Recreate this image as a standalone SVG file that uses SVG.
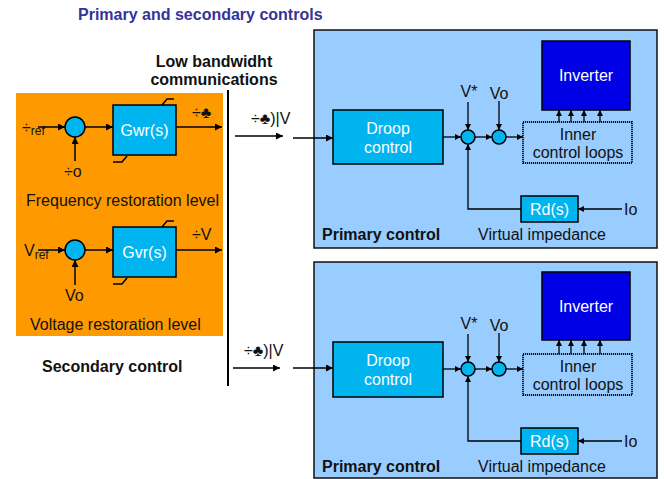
<svg xmlns="http://www.w3.org/2000/svg" width="664" height="479" viewBox="0 0 664 479">
<defs>
<marker id="ah" viewBox="0 0 10 10" refX="10" refY="5" markerWidth="7" markerHeight="7" markerUnits="userSpaceOnUse" orient="auto"><path d="M0,0 L10,5 L0,10 z" fill="#000"/></marker>
<marker id="ahs" viewBox="0 0 10 10" refX="10" refY="5" markerWidth="6" markerHeight="6" markerUnits="userSpaceOnUse" orient="auto"><path d="M0,0 L10,5 L0,10 z" fill="#000"/></marker>
</defs>
<style>
text{font-family:"Liberation Sans",Arial,sans-serif;fill:#111}
.t{font-size:16px}
.w{fill:#fff;font-size:16px}
.b{font-weight:bold;font-size:16px}
.panel{fill:#99CCFF;stroke:#111;stroke-width:1.5}
.box{fill:#00B4F0;stroke:#000;stroke-width:1.5}
.sum{fill:#00B4F0;stroke:#000;stroke-width:1.5}
.inv{fill:#0000E6;stroke:#000;stroke-width:1.5}
.inner{fill:none;stroke:#111;stroke-width:1.8;stroke-dasharray:1.2 0.8}
.ln{fill:none;stroke:#000;stroke-width:1.5}
.a{fill:none;stroke:#000;stroke-width:1.5;marker-end:url(#ah)}
.as{fill:none;stroke:#000;stroke-width:1.3;marker-end:url(#ahs)}
</style>
<rect width="664" height="479" fill="#fff"/>
<text x="78" y="20" style="font-weight:bold;font-size:16px;fill:#333399">Primary and secondary controls</text>
<text x="214" y="67" class="b" text-anchor="middle">Low bandwidht</text>
<text x="214" y="85" class="b" text-anchor="middle">communications</text>

<g id="secondary">
<rect x="16" y="93" width="207" height="243" fill="#FF9900"/>
<text x="42" y="372" class="b">Secondary control</text>
</g>

<g id="freq">
<rect x="113" y="105" width="63" height="50" class="box"/>
<text x="144.5" y="136" class="w" text-anchor="middle">Gwr(s)</text>
<path d="M162,105 L167,99 L174,99 M113,162 L122,162 L127,156" class="ln" stroke-width="1.2"/>
<circle cx="75" cy="127" r="10" class="sum"/>
<text x="22" y="133" class="t">÷<tspan font-size="12" dy="2">ref</tspan></text>
<text x="64" y="177" class="t">÷o</text>
<text x="192" y="118" class="t">÷♣</text>
<text x="26" y="206" class="t">Frequency restoration level</text>
</g>

<g id="volt">
<rect x="113" y="227" width="63" height="50" class="box"/>
<text x="144.5" y="258" class="w" text-anchor="middle">Gvr(s)</text>
<path d="M162,227 L167,221 L174,221 M113,284 L122,284 L127,278" class="ln" stroke-width="1.2"/>
<circle cx="75" cy="250" r="10" class="sum"/>
<text x="24" y="256" class="t">V<tspan font-size="12" dy="3">ref</tspan></text>
<text x="65" y="301" class="t">Vo</text>
<text x="192" y="240" class="t">÷V</text>
<text x="30" y="330" class="t">Voltage restoration level</text>
</g>

<g id="comm">
<line x1="228" y1="90" x2="228" y2="386" stroke="#000" stroke-width="2"/>
<text x="251" y="124" class="t">÷♣)|V</text>
<text x="244" y="356" class="t">÷♣)|V</text>
</g>

<g id="primary1">
<rect x="314" y="30" width="343" height="218" class="panel"/>
<rect x="333" y="110" width="110" height="54" class="box"/>
<text x="388" y="134" class="w" text-anchor="middle">Droop</text>
<text x="388" y="153" class="w" text-anchor="middle">control</text>
<rect x="542" y="41" width="88" height="69" class="inv"/>
<text x="586" y="81" class="w" text-anchor="middle">Inverter</text>
<rect x="523" y="122" width="109" height="41" class="inner"/>
<text x="578" y="140" class="t" text-anchor="middle">Inner</text>
<text x="578" y="158" class="t" text-anchor="middle">control loops</text>
<circle cx="468" cy="137" r="7" class="sum"/>
<circle cx="499" cy="137" r="7" class="sum"/>
<text x="469" y="97" class="t" text-anchor="middle">V*</text>
<text x="499" y="99" class="t" text-anchor="middle">Vo</text>
<rect x="521" y="196" width="57" height="26" class="box"/>
<text x="549.5" y="215" class="w" text-anchor="middle">Rd(s)</text>
<text x="624" y="215" class="t">Io</text>
<text x="322" y="240" class="b">Primary control</text>
<text x="542" y="240" class="t" text-anchor="middle">Virtual impedance</text>
</g>

<g id="primary2">
<rect x="314" y="262" width="343" height="216" class="panel"/>
<rect x="333" y="342" width="110" height="55" class="box"/>
<text x="388" y="366" class="w" text-anchor="middle">Droop</text>
<text x="388" y="385" class="w" text-anchor="middle">control</text>
<rect x="542" y="272" width="88" height="68" class="inv"/>
<text x="586" y="312" class="w" text-anchor="middle">Inverter</text>
<rect x="523" y="354" width="109" height="41" class="inner"/>
<text x="578" y="372" class="t" text-anchor="middle">Inner</text>
<text x="578" y="390" class="t" text-anchor="middle">control loops</text>
<circle cx="468" cy="369" r="7" class="sum"/>
<circle cx="499" cy="369" r="7" class="sum"/>
<text x="469" y="329" class="t" text-anchor="middle">V*</text>
<text x="499" y="331" class="t" text-anchor="middle">Vo</text>
<rect x="521" y="428" width="57" height="26" class="box"/>
<text x="549.5" y="447" class="w" text-anchor="middle">Rd(s)</text>
<text x="624" y="447" class="t">Io</text>
<text x="322" y="472" class="b">Primary control</text>
<text x="542" y="472" class="t" text-anchor="middle">Virtual impedance</text>
</g>

<g id="connectors">
<line x1="38" y1="127" x2="65" y2="127" class="a"/>
<line x1="85" y1="127" x2="113" y2="127" class="a"/>
<line x1="176" y1="127" x2="222" y2="127" class="a"/>
<line x1="75" y1="161" x2="75" y2="137" class="a"/>
<line x1="38" y1="250" x2="65" y2="250" class="a"/>
<line x1="85" y1="250" x2="113" y2="250" class="a"/>
<line x1="176" y1="250" x2="222" y2="250" class="a"/>
<line x1="75" y1="285" x2="75" y2="260" class="a"/>
<line x1="235" y1="136" x2="283" y2="136" class="a"/>
<line x1="293" y1="138" x2="333" y2="138" class="a"/>
<line x1="233" y1="368" x2="280" y2="368" class="a"/>
<line x1="293" y1="368" x2="333" y2="368" class="a"/>
<line x1="443" y1="137" x2="461" y2="137" class="as"/>
<line x1="475" y1="137" x2="492" y2="137" class="as"/>
<line x1="506" y1="137" x2="523" y2="137" class="as"/>
<line x1="468" y1="102" x2="468" y2="130" class="as"/>
<line x1="499" y1="101" x2="499" y2="130" class="as"/>
<polyline points="521,209 468,209 468,144" class="as"/>
<line x1="622" y1="209" x2="578" y2="209" class="as"/>
<line x1="559" y1="122" x2="559" y2="110" class="as"/>
<line x1="571" y1="122" x2="571" y2="110" class="as"/>
<line x1="584" y1="122" x2="584" y2="110" class="as"/>
<line x1="600" y1="122" x2="600" y2="110" class="as"/>
<line x1="443" y1="369" x2="461" y2="369" class="as"/>
<line x1="475" y1="369" x2="492" y2="369" class="as"/>
<line x1="506" y1="369" x2="523" y2="369" class="as"/>
<line x1="468" y1="334" x2="468" y2="362" class="as"/>
<line x1="499" y1="333" x2="499" y2="362" class="as"/>
<polyline points="521,441 468,441 468,376" class="as"/>
<line x1="622" y1="441" x2="578" y2="441" class="as"/>
<line x1="559" y1="354" x2="559" y2="340" class="as"/>
<line x1="571" y1="354" x2="571" y2="340" class="as"/>
<line x1="584" y1="354" x2="584" y2="340" class="as"/>
<line x1="600" y1="354" x2="600" y2="340" class="as"/>
</g>
</svg>
